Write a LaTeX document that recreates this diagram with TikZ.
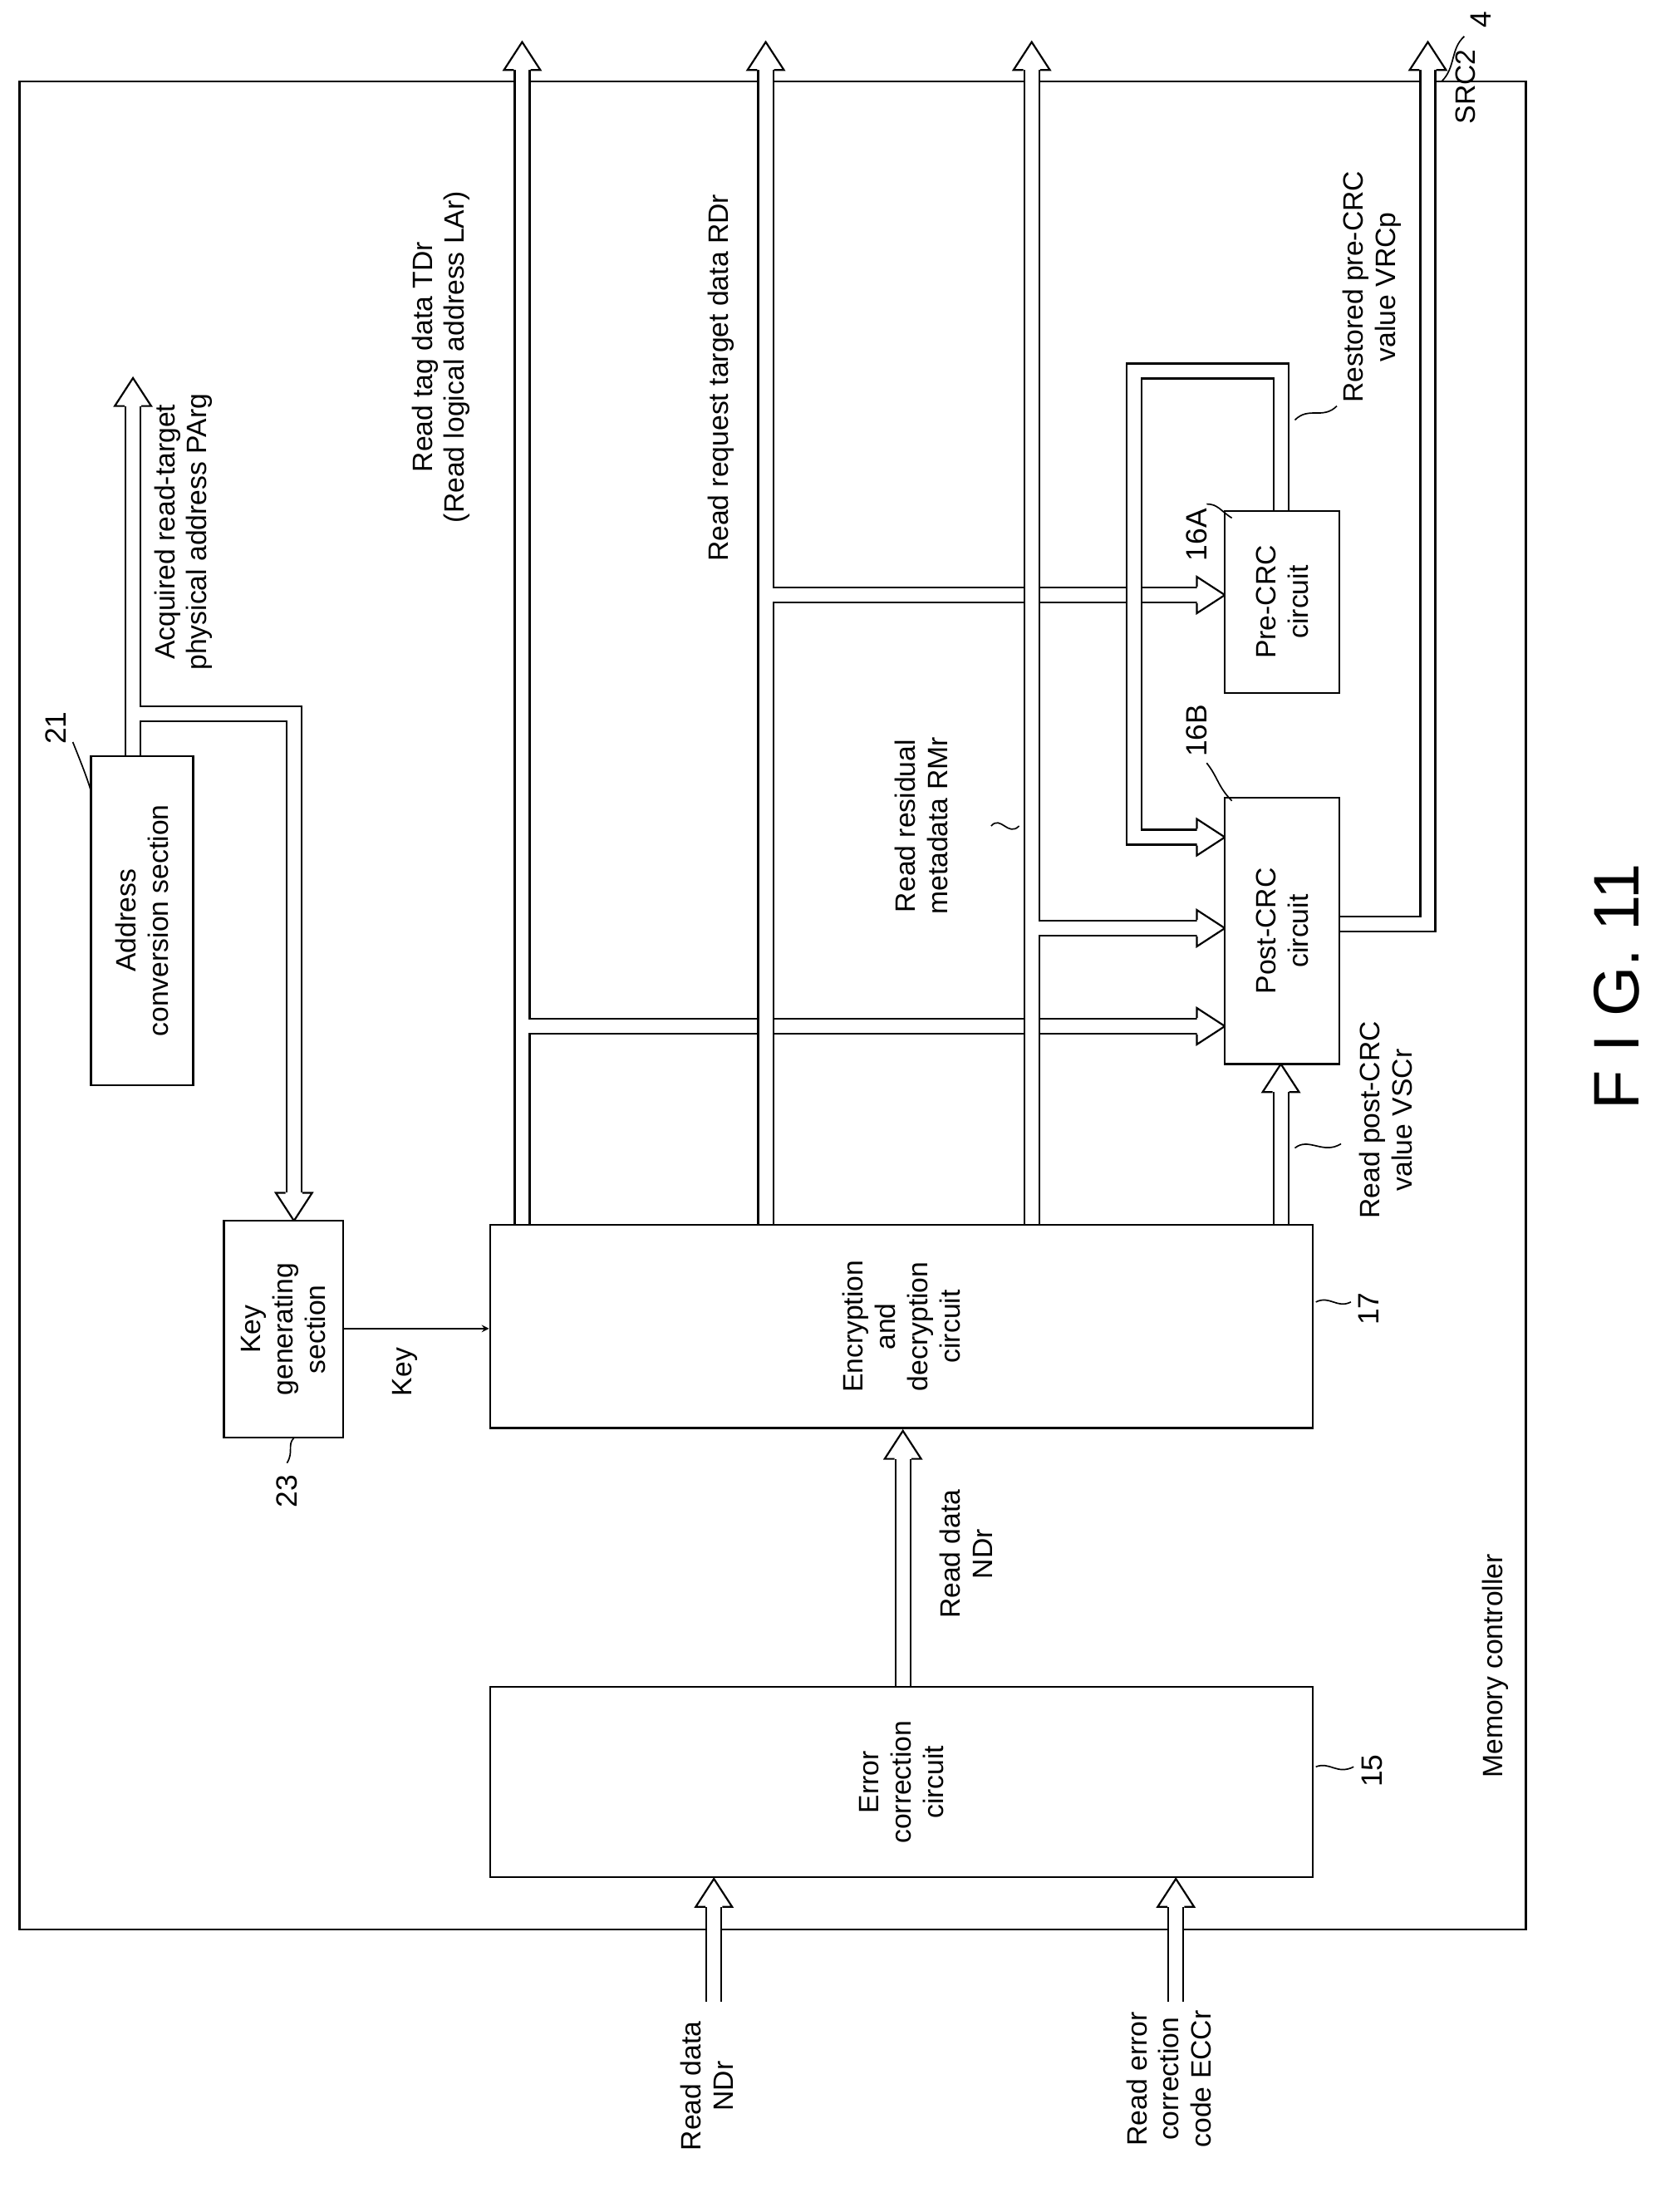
\documentclass[tikz,border=0pt]{standalone}
\usepackage{fontspec}
\setmainfont{Liberation Sans}
\begin{document}
\begin{tikzpicture}[x=1pt,y=-1pt,
  box/.style={draw,line width=1.3pt,fill=white,inner sep=0pt},
  lbl/.style={rotate=90,align=center,font=\fontsize{20}{23}\selectfont,inner sep=1pt},
  num/.style={rotate=90,font=\fontsize{21}{24}\selectfont,inner sep=1pt},
  ld/.style={line width=1pt},
  hd/.style={line width=1.3pt,fill=white,line join=miter}]
\useasboundingbox (0,0) rectangle (1200,1580);
\newcommand\hshafts[1]{%
 \draw[#1] (95,510)--(210,510)--(210,852);
 \draw[#1] (373,733)--(855,733);
 \draw[#1] (547,425)--(855,425);
 \draw[#1] (737,663)--(855,663);}
\newcommand\vshafts[1]{%
 \draw[#1] (95,540)--(95,290);
 \draw[#1] (373,875)--(373,50);
 \draw[#1] (547,875)--(547,50);
 \draw[#1] (737,875)--(737,50);
 \draw[#1] (915,875)--(915,780);
 \draw[#1] (915,365)--(915,265)--(810,265)--(810,598)--(855,598);
 \draw[#1] (957,660)--(1020,660)--(1020,50);
 \draw[#1] (510,1430)--(510,1362);
 \draw[#1] (840,1430)--(840,1362);
 \draw[#1] (645,1205)--(645,1042);}
\newcommand\hup[2]{\fill[white] (#1,#2)--(#1-13,#2+20)--(#1+13,#2+20)--cycle;
 \draw[hd,fill=none] (#1-6,#2+20)--(#1-13,#2+20)--(#1,#2)--(#1+13,#2+20)--(#1+6,#2+20);}
\newcommand\hdown[2]{\fill[white] (#1,#2)--(#1-13,#2-20)--(#1+13,#2-20)--cycle;
 \draw[hd,fill=none] (#1-6,#2-20)--(#1-13,#2-20)--(#1,#2)--(#1+13,#2-20)--(#1+6,#2-20);}
\newcommand\hright[2]{\fill[white] (#1,#2)--(#1-20,#2-13)--(#1-20,#2+13)--cycle;
 \draw[hd,fill=none] (#1-20,#2-6)--(#1-20,#2-13)--(#1,#2)--(#1-20,#2+13)--(#1-20,#2+6);}
\newcommand\junc[2]{\fill[white] (#1+4,#2-4.7) rectangle (#1+6.6,#2+4.7);}
% frame
\draw[line width=1.3pt] (14,58) rectangle (1090,1378);
\node[num] (n4) at (1058,14) {4};
\draw[ld] (1046,26) .. controls (1036,35) and (1040,48) .. (1030,58);
% shafts
\hshafts{line width=12pt,black}
\hshafts{line width=9.4pt,white}
\vshafts{line width=12pt,black}
\vshafts{line width=9.4pt,white}
\junc{95}{510}\junc{373}{733}\junc{547}{425}\junc{737}{663}
\hup{95}{270}\hup{373}{30}\hup{547}{30}\hup{737}{30}\hup{915}{760}\hup{1020}{30}
\hup{510}{1342}\hup{840}{1342}\hup{645}{1022}
\hdown{210}{872}
\hright{875}{733}\hright{875}{425}\hright{875}{663}\hright{875}{598}
% boxes
\node[box,minimum width=73,minimum height=235] (addr) at (101.5,657.5) {};
\node[lbl] at (addr) {Address\\conversion section};
\node[box,minimum width=85,minimum height=155] (key) at (202.5,949.5) {};
\node[lbl] at (key) {Key\\generating\\section};
\node[box,minimum width=588,minimum height=145] (enc) at (644,947.5) {};
\node[lbl] at (enc) {Encryption\\and\\decryption\\circuit};
\node[box,minimum width=588,minimum height=136] (ecc) at (644,1273) {};
\node[lbl] at (ecc) {Error\\correction\\circuit};
\node[box,minimum width=82,minimum height=130] (pre) at (916,430) {};
\node[lbl] at (pre) {Pre-CRC\\circuit};
\node[box,minimum width=82,minimum height=190] (post) at (916,665) {};
\node[lbl] at (post) {Post-CRC\\circuit};
\draw[line width=1.3pt,-stealth] (key.east |- 0,949) -- (enc.west |- 0,949);
% labels
\node[num] at (40,520) {21};
\draw[ld] (52,530) .. controls (58,545) and (62,555) .. (65,565);
\node[num] at (205,1065) {23};
\draw[ld] (205,1045) .. controls (210,1037) and (205,1032) .. (210,1027);
\node[num] at (978,935) {17};
\draw[ld] (940,930) .. controls (950,925) and (955,935) .. (965,930);
\node[num] at (980,1265) {15};
\draw[ld] (940,1262) .. controls (950,1258) and (955,1268) .. (967,1262);
\node[num] at (855,382) {16A};
\draw[ld] (862,360) .. controls (870,360) and (872,365) .. (880,370);
\node[num] at (855,522) {16B};
\draw[ld] (862,545) .. controls (870,555) and (870,562) .. (880,572);
\node[lbl] at (131,380) {Acquired read-target\\physical address PArg};
\node[lbl] at (315,255) {Read tag data TDr\\(Read logical address LAr)};
\node[lbl] at (515,270) {Read request target data RDr};
\node[lbl] at (658,590) {Read residual\\metadata RMr};
\draw[ld] (708,590) .. controls (715,582) and (720,598) .. (728,590);
\node[lbl] at (980,205) {Restored pre-CRC\\value VRCp};
\draw[ld] (925,300) .. controls (935,290) and (945,300) .. (955,290);
\node[lbl] at (1047,62) {SRC2};
\node[lbl] at (990,800) {Read post-CRC\\value VSCr};
\draw[ld] (925,820) .. controls (935,812) and (945,825) .. (958,817);
\node[lbl] at (289,980) {Key};
\node[lbl] at (690,1110) {Read data\\NDr};
\node[lbl] at (505,1490) {Read data\\NDr};
\node[lbl] at (835,1485) {Read error\\correction\\code ECCr};
\node[lbl] at (1068,1190) {Memory controller};
\node[rotate=90,font=\fontsize{46}{50}\selectfont] at (1155,705) {F I G. 11};
\end{tikzpicture}
\end{document}
